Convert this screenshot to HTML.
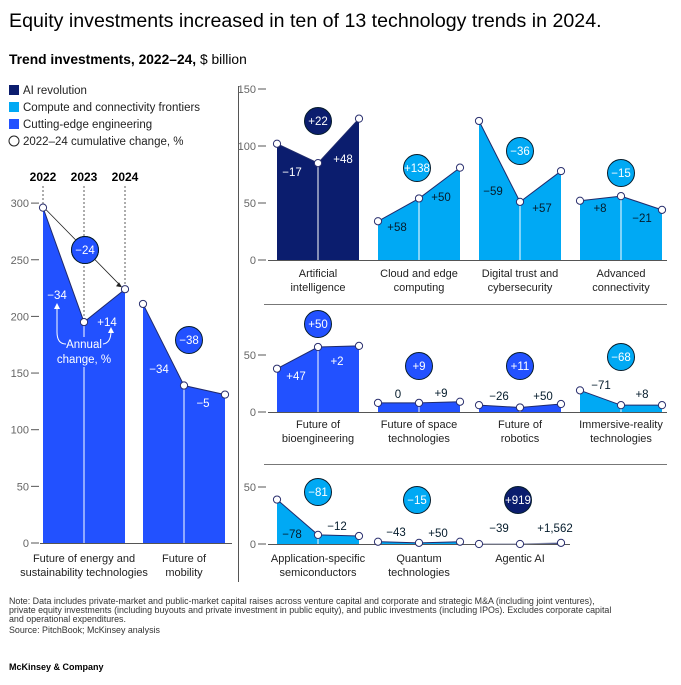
<!DOCTYPE html>
<html><head><meta charset="utf-8">
<style>
html,body{margin:0;padding:0;background:#fff;}
svg{display:block;font-family:"Liberation Sans",Arial,sans-serif;}
</style></head>
<body>
<svg id="chart" width="681" height="685" viewBox="0 0 681 685" xmlns="http://www.w3.org/2000/svg">
<text x="9" y="27" font-size="19.6" fill="#000">Equity investments increased in ten of 13 technology trends in 2024.</text>
<text x="9" y="64" font-size="13.8" fill="#000"><tspan font-weight="bold">Trend investments, 2022–24,</tspan> $ billion</text>
<g font-size="11.5" fill="#222">
<rect x="9" y="85" width="10" height="10" fill="#0b1d6e"/>
<text x="23" y="94">AI revolution</text>
<rect x="9" y="102" width="10" height="10" fill="#00a9f4"/>
<text x="23" y="111">Compute and connectivity frontiers</text>
<rect x="9" y="119" width="10" height="10" fill="#2251ff"/>
<text x="23" y="128">Cutting-edge engineering</text>
<circle cx="14" cy="141" r="5" fill="#fff" stroke="#222" stroke-width="1"/>
<text x="23" y="145">2022–24 cumulative change, %</text>
</g>
<line x1="238.5" y1="86" x2="238.5" y2="582" stroke="#555" stroke-width="1"/>
<line x1="264" y1="304.5" x2="667" y2="304.5" stroke="#777" stroke-width="1"/>
<line x1="264" y1="464.5" x2="667" y2="464.5" stroke="#777" stroke-width="1"/>
<g id="plot"></g>
<g font-size="8.9" fill="#333">
<text x="9" y="604">Note: Data includes private-market and public-market capital raises across venture capital and corporate and strategic M&amp;A (including joint ventures),</text>
<text x="9" y="613">private equity investments (including buyouts and private investment in public equity), and public investments (including IPOs). Excludes corporate capital</text>
<text x="9" y="622">and operational expenditures.</text>
<text x="9" y="633">Source: PitchBook; McKinsey analysis</text>
</g>
<text x="9" y="670" font-size="9" font-weight="bold" fill="#000">McKinsey &amp; Company</text>
</svg>
<script>
const categories = ["Future of energy and|sustainability technologies","Future of|mobility","Artificial|intelligence","Cloud and edge|computing","Digital trust and|cybersecurity","Advanced|connectivity","Future of|bioengineering","Future of space|technologies","Future of|robotics","Immersive-reality|technologies","Application-specific|semiconductors","Quantum|technologies","Agentic AI"];
const v2022 = [296,211,102,34,122,52,38,8,6,19,39,2,0];
const v2023 = [195,139,85,54,51,56,57,8,4,6,8,1,0];
const v2024 = [224,131,124,81,78,44,58,9,7,6,7,2,1];
const annual1 = ["−34","−34","−17","+58","−59","+8","+47","0","−26","−71","−78","−43","−39"];
const annual2 = ["+14","−5","+48","+50","+57","−21","+2","+9","+50","+8","−12","+50","+1,562"];
const cumulative = ["−24","−38","+22","+138","−36","−15","+50","+9","+11","−68","−81","−15","+919"];
const groups = ["eng","eng","ai","cc","cc","cc","eng","eng","eng","cc","cc","cc","ai"];
const yTicksLeft = [0,50,100,150,200,250,300];
const yTicksTop = [0,50,100,150];
const yTicksSmall = [0,50];

// layout (not data)
const COLORS = {ai:"#0b1d6e", cc:"#00a9f4", eng:"#2251ff"};
const panels = [
 {x:43,row:0},{x:143,row:0},
 {x:277,row:1},{x:378,row:1},{x:479,row:1},{x:580,row:1},
 {x:277,row:2},{x:378,row:2},{x:479,row:2},{x:580,row:2},
 {x:277,row:3},{x:378,row:3},{x:479,row:3}];
const rows = [
 {base:543,k:1.133,axisX1:40,axisX2:232,tickX:37,labelY:562},
 {base:260,k:1.14,axisX1:268,axisX2:667,tickX:264,labelY:277},
 {base:412,k:1.14,axisX1:268,axisX2:667,tickX:264,labelY:428},
 {base:544,k:1.14,axisX1:268,axisX2:570,tickX:264,labelY:562}];
const PW = 82;
const bubblePos = [[85,250],[189,340],[318,121],[417,168],[520,151],[621,173],[318,324],[419,366],[520,366],[621,357],[318,492],[417,500],[518,500]];
const labelPos = [[[57,299],[107,326]],[[159,373],[203,407]],[[292,176],[343,163]],[[397,231],[441,201]],[[493,195],[542,212]],[[600,212],[642,222]],
 [[296,380],[337,365]],[[398,398],[441,397]],[[499,400],[543,400]],[[601,389],[642,398]],[[292,538],[337,530]],[[396,536],[438,537]],[[499,532],[555,532]]];

const NS = "http://www.w3.org/2000/svg";
const plot = document.getElementById("plot");
function el(tag, attrs, parent){const e=document.createElementNS(NS,tag);for(const k in attrs)e.setAttribute(k,attrs[k]);(parent||plot).appendChild(e);return e;}
function yScale(r,v){return rows[r].base - v*rows[r].k;}

rows.forEach((rw,ri)=>{
  const ticks = ri===0?yTicksLeft:(ri===1?yTicksTop:yTicksSmall);
  const ax = el("line",{x1:rw.axisX1,y1:rw.base+0.5,x2:rw.axisX2,y2:rw.base+0.5,stroke:"#555","stroke-width":1});
  
  
  ticks.forEach(t=>{
    const y=yScale(ri,t);
    const ln=el("line",{x1:rw.tickX-6,y1:y,x2:rw.tickX+2,y2:y,stroke:"#555","stroke-width":1});
    
    
    const tx=el("text",{x:rw.tickX-8,y:y+4,"font-size":11,fill:"#666","text-anchor":"end"});
    tx.textContent=t;
    
    
  });
});

const years=["2022","2023","2024"];
years.forEach((yr,i)=>{
  const x=43+i*PW/2;
  const t=el("text",{x:x,y:181,"font-size":12,"font-weight":"bold","text-anchor":"middle",fill:"#000"});
  t.textContent=yr;
  
  
  const vals=[v2022[0],v2023[0],v2024[0]];
  const l=el("line",{x1:x,y1:186,x2:x,y2:yScale(0,vals[i]),stroke:"#333","stroke-width":0.8,"stroke-dasharray":"2,2"});
  
  
});

categories.forEach((cat,i)=>{
  const p=panels[i], r=p.row, c=COLORS[groups[i]];
  const xs=[p.x,p.x+PW/2,p.x+PW], vs=[v2022[i],v2023[i],v2024[i]];
  const ys=vs.map(v=>yScale(r,v)), b=rows[r].base;
  const g=el("g",{});
  
  
  const area=el("path",{d:`M${xs[0]},${b} L${xs[0]},${ys[0]} L${xs[1]},${ys[1]} L${xs[2]},${ys[2]} L${xs[2]},${b} Z`,fill:c},g);
  
  
  const mid=el("line",{x1:xs[1],y1:ys[1],x2:xs[1],y2:b,stroke:"#fff","stroke-width":1},g);
  
  
  const ln=el("polyline",{points:xs.map((x,j)=>x+","+ys[j]).join(" "),fill:"none",stroke:(i===12?"#8a8fa8":"#1f2a6b"),"stroke-width":1},g);
  
  
  xs.forEach((x,j)=>{
    const pt=el("circle",{cx:x,cy:ys[j],r:3.6,fill:"#fff",stroke:"#2a2f6e","stroke-width":1},g);
    
    
  });
  const ann=[annual1[i],annual2[i]];
  ann.forEach((a,j)=>{
    const [lx,ly]=labelPos[i][j];
    const segTop=Math.min(ys[j],ys[j+1]);
    const inside = ly>segTop+4;
    const col = inside && groups[i]!=="cc" ? "#fff" : "#051c2c";
    const t=el("text",{x:lx,y:ly,"font-size":11.5,"text-anchor":"middle",fill:col},g);
    t.textContent=a;
    
    
  });
  const [bx,by]=bubblePos[i];
  const bc=el("circle",{cx:bx,cy:by,r:13.5,fill:c,stroke:"#051c2c","stroke-width":1},g);
  
  
  const bt=el("text",{x:bx,y:by+4,"font-size":11.5,"text-anchor":"middle",fill:"#fff"},g);
  bt.textContent=cumulative[i];
  
  
  cat.split("|").forEach((line,k)=>{
    const t=el("text",{x:p.x+PW/2,y:rows[r].labelY+k*14,"font-size":11,"text-anchor":"middle",fill:"#222"},g);
    t.textContent=line;
    
    
  });
});

const ax1=43, ay1=yScale(0,v2022[0]), ax2=125, ay2=yScale(0,v2024[0]);
const arr=el("line",{x1:ax1+3,y1:ay1+2,x2:ax2-4,y2:ay2-3,stroke:"#222","stroke-width":0.8});


const ah=el("path",{d:`M${ax2-3},${ay2-2} l-6,-1 l3,-4 z`,fill:"#222"});


const eb=el("circle",{cx:bubblePos[0][0],cy:bubblePos[0][1],r:13.5,fill:COLORS.eng,stroke:"#051c2c","stroke-width":1});


const et=el("text",{x:bubblePos[0][0],y:bubblePos[0][1]+4,"font-size":11.5,"text-anchor":"middle",fill:"#fff"});
et.textContent=cumulative[0];


const note=el("g",{});


el("rect",{x:60,y:337,width:48,height:30,fill:COLORS.eng},note);
el("path",{d:"M57,305 L57,332 Q57,344 66,344",fill:"none",stroke:"#fff","stroke-width":1},note);
el("path",{d:"M54,309 L57,303 L60,309 Z",fill:"#fff"},note);
el("path",{d:"M111,331 Q111,343 103,344",fill:"none",stroke:"#fff","stroke-width":1},note);
el("path",{d:"M108,333 L111,327 L114,333 Z",fill:"#fff"},note);
const n1=el("text",{x:84,y:348,"font-size":11.5,"text-anchor":"middle",fill:"#fff"},note);n1.textContent="Annual";
const n2=el("text",{x:84,y:363,"font-size":11.5,"text-anchor":"middle",fill:"#fff"},note);n2.textContent="change, %";
</script>
</body></html>
